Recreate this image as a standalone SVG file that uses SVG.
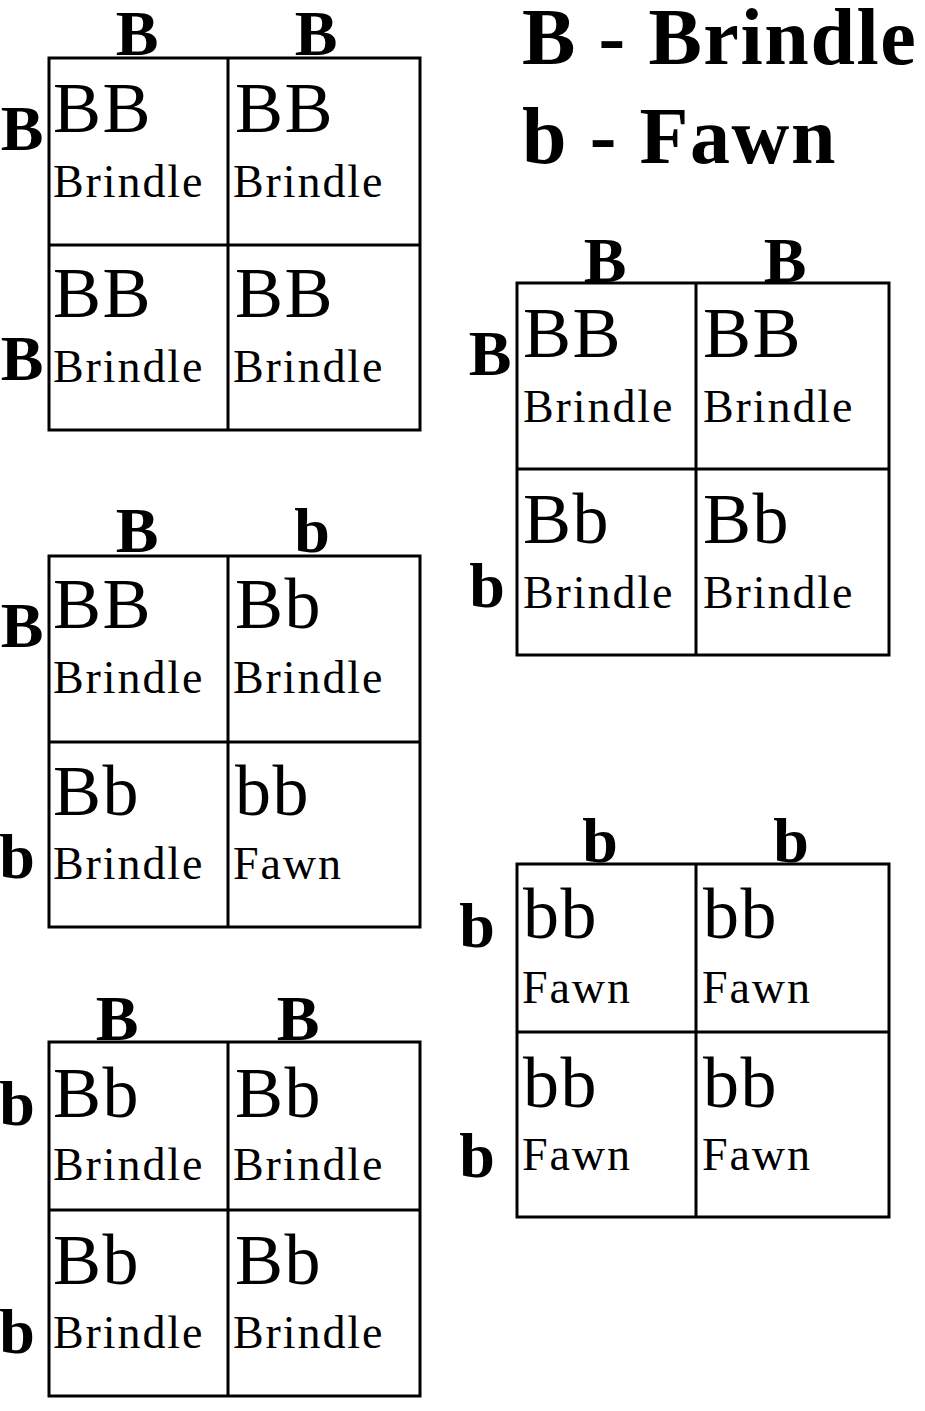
<svg xmlns="http://www.w3.org/2000/svg" width="925" height="1411" viewBox="0 0 925 1411">
<style>
.grid{fill:none;stroke:#000;stroke-width:3}
.lbl{font-family:"Liberation Serif","Times New Roman",serif;font-weight:bold;font-size:64px;fill:#000;text-anchor:middle}
.geno{font-family:"Liberation Serif","Times New Roman",serif;font-size:72px;letter-spacing:1.5px;fill:#000}
.pheno{font-family:"Liberation Serif","Times New Roman",serif;font-size:46px;letter-spacing:1.9px;fill:#000}
.title{font-family:"Liberation Serif","Times New Roman",serif;font-weight:bold;font-size:80px;letter-spacing:1.6px;fill:#000}
</style>
<rect width="925" height="1411" fill="#fff"/>

<g id="legend">
<text class="title" x="522" y="64">B - Brindle</text>
<text class="title" x="522" y="163">b - Fawn</text>
</g>

<g id="square1">
<rect class="grid" x="49" y="58" width="371" height="372"/>
<line class="grid" x1="228" y1="58" x2="228" y2="430"/>
<line class="grid" x1="49" y1="245" x2="420" y2="245"/>
<text class="lbl" x="137" y="55">B</text>
<text class="lbl" x="316" y="55">B</text>
<text class="lbl" x="22" y="150">B</text>
<text class="lbl" x="22" y="380">B</text>
<text class="geno" x="53" y="132">BB</text>
<text class="pheno" x="53" y="197">Brindle</text>
<text class="geno" x="235" y="132">BB</text>
<text class="pheno" x="233" y="197">Brindle</text>
<text class="geno" x="53" y="317">BB</text>
<text class="pheno" x="53" y="382">Brindle</text>
<text class="geno" x="235" y="317">BB</text>
<text class="pheno" x="233" y="382">Brindle</text>
</g>

<g id="square2">
<rect class="grid" x="517" y="283" width="372" height="372"/>
<line class="grid" x1="696" y1="283" x2="696" y2="655"/>
<line class="grid" x1="517" y1="469" x2="889" y2="469"/>
<text class="lbl" x="605" y="282">B</text>
<text class="lbl" x="785" y="282">B</text>
<text class="lbl" x="490" y="375">B</text>
<text class="lbl" x="487" y="607">b</text>
<text class="geno" x="523" y="357">BB</text>
<text class="pheno" x="523" y="422">Brindle</text>
<text class="geno" x="703" y="357">BB</text>
<text class="pheno" x="703" y="422">Brindle</text>
<text class="geno" x="523" y="543">Bb</text>
<text class="pheno" x="523" y="608">Brindle</text>
<text class="geno" x="703" y="543">Bb</text>
<text class="pheno" x="703" y="608">Brindle</text>
</g>

<g id="square3">
<rect class="grid" x="49" y="556" width="371" height="371"/>
<line class="grid" x1="228" y1="556" x2="228" y2="927"/>
<line class="grid" x1="49" y1="742" x2="420" y2="742"/>
<text class="lbl" x="137" y="552">B</text>
<text class="lbl" x="312" y="552">b</text>
<text class="lbl" x="22" y="647">B</text>
<text class="lbl" x="17" y="878">b</text>
<text class="geno" x="53" y="628">BB</text>
<text class="pheno" x="53" y="693">Brindle</text>
<text class="geno" x="235" y="628">Bb</text>
<text class="pheno" x="233" y="693">Brindle</text>
<text class="geno" x="53" y="815">Bb</text>
<text class="pheno" x="53" y="879">Brindle</text>
<text class="geno" x="235" y="815">bb</text>
<text class="pheno" x="233" y="879">Fawn</text>
</g>

<g id="square4">
<rect class="grid" x="49" y="1042" width="371" height="354"/>
<line class="grid" x1="228" y1="1042" x2="228" y2="1396"/>
<line class="grid" x1="49" y1="1210" x2="420" y2="1210"/>
<text class="lbl" x="117" y="1040">B</text>
<text class="lbl" x="298" y="1040">B</text>
<text class="lbl" x="17" y="1125">b</text>
<text class="lbl" x="17" y="1353">b</text>
<text class="geno" x="53" y="1117">Bb</text>
<text class="pheno" x="53" y="1180">Brindle</text>
<text class="geno" x="235" y="1117">Bb</text>
<text class="pheno" x="233" y="1180">Brindle</text>
<text class="geno" x="53" y="1284">Bb</text>
<text class="pheno" x="53" y="1348">Brindle</text>
<text class="geno" x="235" y="1284">Bb</text>
<text class="pheno" x="233" y="1348">Brindle</text>
</g>

<g id="square5">
<rect class="grid" x="517" y="864" width="372" height="353"/>
<line class="grid" x1="696" y1="864" x2="696" y2="1217"/>
<line class="grid" x1="517" y1="1032" x2="889" y2="1032"/>
<text class="lbl" x="600" y="862">b</text>
<text class="lbl" x="791" y="862">b</text>
<text class="lbl" x="477" y="947">b</text>
<text class="lbl" x="477" y="1177">b</text>
<text class="geno" x="523" y="938">bb</text>
<text class="pheno" x="522" y="1003">Fawn</text>
<text class="geno" x="703" y="938">bb</text>
<text class="pheno" x="702" y="1003">Fawn</text>
<text class="geno" x="523" y="1107">bb</text>
<text class="pheno" x="522" y="1170">Fawn</text>
<text class="geno" x="703" y="1107">bb</text>
<text class="pheno" x="702" y="1170">Fawn</text>
</g>
</svg>
